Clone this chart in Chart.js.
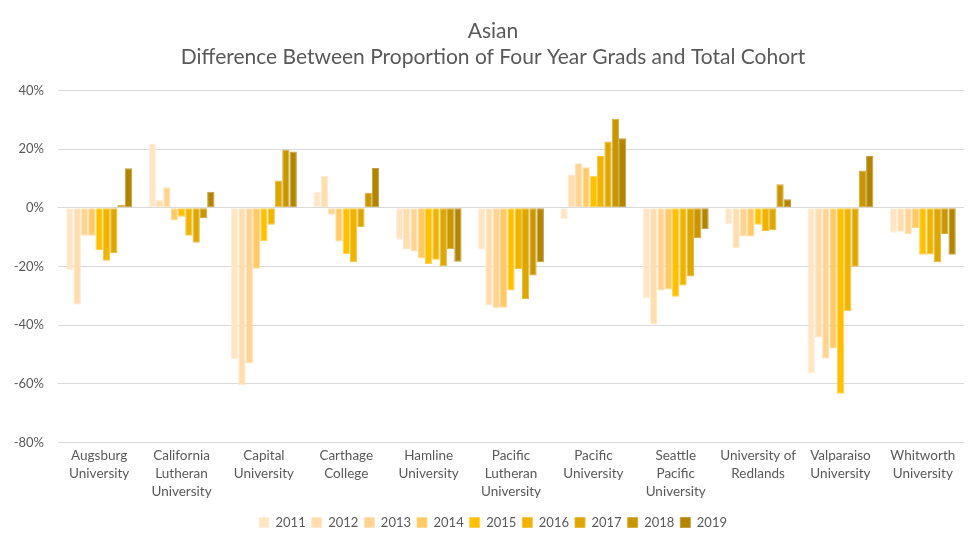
<!DOCTYPE html>
<html>
<head>
<meta charset="utf-8">
<script src="https://cdn.jsdelivr.net/npm/chart.js@4.4.1/dist/chart.umd.min.js"></script>
<style>
  html, body { margin: 0; padding: 0; background: #fff; }
  #wrap { width: 980px; height: 546px; }
</style>
</head>
<body>
<div id="wrap"><canvas id="chart" width="980" height="546"></canvas></div>
<script>
// ---- data (values in percent) ----
const schools = [
  ["Augsburg", "University"],
  ["California", "Lutheran", "University"],
  ["Capital", "University"],
  ["Carthage", "College"],
  ["Hamline", "University"],
  ["Pacific", "Lutheran", "University"],
  ["Pacific", "University"],
  ["Seattle", "Pacific", "University"],
  ["University of", "Redlands"],
  ["Valparaiso", "University"],
  ["Whitworth", "University"]
];

const years = ["2011", "2012", "2013", "2014", "2015", "2016", "2017", "2018", "2019"];

const y2011 = [-21.4, 21.9, -51.7,  5.5, -10.9, -14.2, -3.9, -30.9,  -5.5, -56.5,  -8.5];
const y2012 = [-33.0,  2.6, -60.5, 10.9, -14.2, -33.3, 11.2, -39.7, -13.7, -44.2,  -8.2];
const y2013 = [ -9.5,  7.0, -53.1, -2.4, -14.9, -34.2, 15.2, -28.2,  -9.8, -51.5,  -9.0];
const y2014 = [ -9.5, -4.3, -20.8,-11.5, -17.3, -34.1, 13.8, -27.9,  -9.8, -48.0,  -6.9];
const y2015 = [-14.4, -3.1, -11.4,-15.8, -19.2, -28.2, 10.9, -30.3,  -5.8, -63.4, -16.0];
const y2016 = [-18.1, -9.5,  -5.8,-18.6, -17.7, -21.0, 17.7, -26.5,  -7.9, -35.3, -15.9];
const y2017 = [-15.4,-11.9,   9.3, -6.6, -19.9, -31.1, 22.6, -23.4,  -7.7, -20.1, -18.6];
const y2018 = [  1.0, -3.5,  19.8,  5.1, -14.1, -23.1, 30.4, -10.4,   8.0,  12.7,  -8.9];
const y2019 = [ 13.5,  5.5,  19.2, 13.6, -18.4, -18.6, 23.7,  -7.3,   2.9,  17.7, -16.0];

const yTicks = [-80, -60, -40, -20, 0, 20, 40];

const seriesValues = [y2011, y2012, y2013, y2014, y2015, y2016, y2017, y2018, y2019];
const seriesColors = ["#FFE5C4", "#FFDDAE", "#FFD493", "#FFC966", "#FFC000",
                      "#EFB300", "#DDA600", "#C89600", "#B28500"];
const edgeColors   = ["#FFEEDA", "#FFE8C8", "#FFE2B6", "#FFDA96", "#FFD24D",
                      "#F4C640", "#E6BC40", "#D6AD40", "#C49D40"];

const FONT = "Lato, 'Open Sans', sans-serif";
const TEXT = "#595959";

new Chart(document.getElementById("chart").getContext("2d"), {
  type: "bar",
  data: {
    labels: schools,
    datasets: years.map((yr, i) => ({
      label: yr,
      data: seriesValues[i],
      backgroundColor: seriesColors[i],
      borderColor: edgeColors[i],
      borderWidth: 1,
      borderSkipped: false,
      categoryPercentage: 0.8,
      barPercentage: 1.0
    }))
  },
  options: {
    responsive: false,
    animation: false,
    layout: { padding: { left: 6, right: 0, top: 10, bottom: 7 } },
    plugins: {
      title: {
        display: true,
        text: ["Asian", "Difference Between Proportion of Four Year Grads and Total Cohort"],
        color: TEXT,
        font: { family: FONT, size: 21, weight: "normal", lineHeight: 1.25 },
        padding: { top: 8, bottom: 20 }
      },
      legend: {
        position: "bottom",
        labels: {
          color: TEXT,
          font: { family: FONT, size: 13 },
          boxWidth: 10,
          boxHeight: 10,
          padding: 6
        }
      },
      tooltip: { enabled: false }
    },
    scales: {
      x: {
        grid: { display: false, drawTicks: false },
        border: { display: false },
        afterFit: axis => { axis.height += 5; },
        ticks: { color: TEXT, font: { family: FONT, size: 13.5, lineHeight: 1.3 }, padding: 5, maxRotation: 0, autoSkip: false }
      },
      y: {
        min: yTicks[0],
        max: yTicks[yTicks.length - 1],
        afterBuildTicks: axis => { axis.ticks = yTicks.map(v => ({ value: v })); },
        afterFit: axis => { axis.width = 52; },
        grid: { color: "#d9d9d9", lineWidth: 1, drawTicks: false },
        border: { display: false },
        ticks: {
          color: TEXT,
          font: { family: FONT, size: 13 },
          padding: 14,
          callback: v => v + "%"
        }
      },
      // empty right-hand spacer so the title stays centred like the original
      spacer: {
        type: "linear",
        position: "right",
        min: 0,
        max: 1,
        afterFit: axis => { axis.width = 16; },
        grid: { display: false, drawTicks: false },
        border: { display: false },
        ticks: { display: false }
      }
    }
  }
});
</script>
</body>
</html>
